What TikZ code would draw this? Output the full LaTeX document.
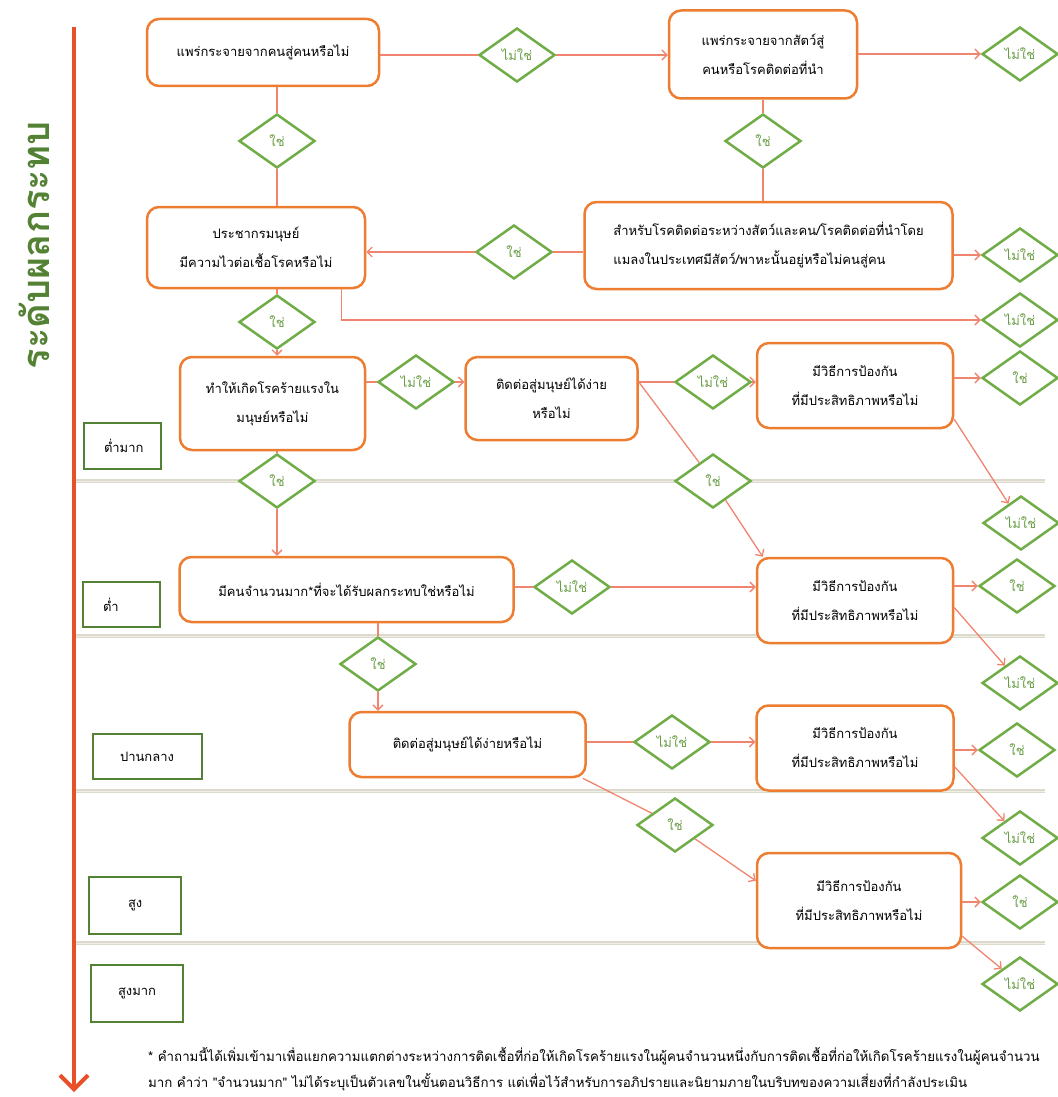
\documentclass[tikz,border=0pt]{standalone}
\usepackage{fontspec}
\newfontfamily\thaifont[Script=Thai]{Loma}
\usetikzlibrary{arrows.meta}
\usetikzlibrary{shapes.geometric}
\usetikzlibrary{calc}
\definecolor{boxorange}{HTML}{ED7D31}
\definecolor{chgreen}{HTML}{70AD47}
\definecolor{txgreen}{HTML}{6A9E45}
\definecolor{lvgreen}{HTML}{548235}
\definecolor{linkred}{HTML}{F0846E}
\definecolor{axisred}{HTML}{E8502A}
\definecolor{bandgray}{HTML}{DCDACB}
\tikzset{>={Straight Barb[length=5pt,width=10pt]}}
\tikzset{
    procbox/.style={draw=boxorange, line width=2.5pt, rounded corners=12pt, fill=white, align=center, font=\thaifont\fontsize{13}{29}\selectfont},
    yesno/.style={diamond, draw=chgreen, line width=2.5pt, fill=white, inner sep=0pt, minimum width=76pt, minimum height=54pt, text=txgreen, font=\thaifont\fontsize{13}{15}\selectfont},
    levelbox/.style={draw=lvgreen, line width=2.5pt, fill=white, align=left, text width=#1, font=\thaifont\fontsize{13}{15}\selectfont},
    link/.style={draw=linkred, line width=1.3pt},
    band/.style={bandgray, line width=4pt},
}
\def\bandline(#1)% Syntax: (y)
    { \draw[band] (76,#1) -- (1045,#1); \draw[white!55!bandgray, line width=1pt] (76,#1) -- (1045,#1); }

\begin{document}
\begin{tikzpicture}[x=1pt, y=-1pt]
		\useasboundingbox (0,0) rectangle (1057,1097);
		\foreach \yy in {481,636,791,943} { \bandline(\yy) }
		\draw[axisred, line width=4pt, -{Straight Barb[length=14pt,width=28pt]}] (74,27) -- (74,1092);
		\node[rotate=90, text=lvgreen, font=\thaifont\bfseries\fontsize{38}{44}\selectfont] (axislabel) at (34,245) {ระดับผลกระทบ};

		\node[levelbox=37pt, inner xsep=20pt, minimum height=46pt] (lvA) at (122.5,446) {ต่ำมาก};
		\node[levelbox=37pt, inner xsep=20pt, minimum height=45pt] (lvB) at (121.5,604.5) {ต่ำ};
		\node[levelbox=55pt, inner xsep=27pt, minimum height=45pt] (lvC) at (147.5,756.5) {ปานกลาง};
		\node[levelbox=14pt, inner xsep=39pt, minimum height=57pt] (lvD) at (135,905.5) {สูง};
		\node[levelbox=38pt, inner xsep=27pt, minimum height=57pt] (lvE) at (137,993.5) {สูงมาก};

		\node[procbox, minimum width=232pt, minimum height=67pt] (qA) at (263,52.5) {แพร่กระจายจากคนสู่คนหรือไม่};
		\node[procbox, minimum width=188pt, minimum height=88pt] (qB) at (763,54.5) {แพร่กระจายจากสัตว์สู่\\คนหรือโรคติดต่อที่นำ};
		\node[procbox, minimum width=218pt, minimum height=81pt] (qC) at (256,247.5) {ประชากรมนุษย์\\มีความไวต่อเชื้อโรคหรือไม่};
		\node[procbox, align=left, minimum width=368pt, minimum height=87pt] (qD) at (768.5,245.5) {สำหรับโรคติดต่อระหว่างสัตว์และคน/โรคติดต่อที่นำโดย\\แมลงในประเทศมีสัตว์/พาหะนั้นอยู่หรือไม่คนสู่คน};
		\node[procbox, minimum width=185pt, minimum height=93pt] (qE) at (272.5,403.5) {ทำให้เกิดโรคร้ายแรงใน\\มนุษย์หรือไม่};
		\node[procbox, minimum width=172pt, minimum height=83pt] (qF) at (551.5,398.5) {ติดต่อสู่มนุษย์ได้ง่าย\\หรือไม่};
		\node[procbox, minimum width=196pt, minimum height=85pt] (qG) at (855,385.5) {มีวิธีการป้องกัน\\ที่มีประสิทธิภาพหรือไม่};
		\node[procbox, minimum width=196pt, minimum height=85pt] (qH) at (855,600.5) {มีวิธีการป้องกัน\\ที่มีประสิทธิภาพหรือไม่};
		\node[procbox, minimum width=334pt, minimum height=65pt] (qI) at (346.5,589.5) {มีคนจำนวนมาก*ที่จะได้รับผลกระทบใช่หรือไม่};
		\node[procbox, minimum width=236pt, minimum height=65pt] (qJ) at (467.5,744.5) {ติดต่อสู่มนุษย์ได้ง่ายหรือไม่};
		\node[procbox, minimum width=197pt, minimum height=85pt] (qK) at (855,748) {มีวิธีการป้องกัน\\ที่มีประสิทธิภาพหรือไม่};
		\node[procbox, minimum width=204pt, minimum height=95pt] (qL) at (859,900.5) {มีวิธีการป้องกัน\\ที่มีประสิทธิภาพหรือไม่};

		\node[yesno] (dA1) at (517,55) {ไม่ใช่};
		\node[yesno] (dA2) at (1020,54) {ไม่ใช่};
		\node[yesno] (dA3) at (277,141) {ใช่};
		\node[yesno] (dA4) at (763,141) {ใช่};
		\node[yesno] (dC1) at (514,252) {ใช่};
		\node[yesno] (dC2) at (1020,255) {ไม่ใช่};
		\node[yesno] (dC3) at (1020,320) {ไม่ใช่};
		\node[yesno] (dC4) at (277,322) {ใช่};
		\node[yesno] (dE1) at (416,382) {ไม่ใช่};
		\node[yesno] (dF1) at (713,382) {ไม่ใช่};
		\node[yesno] (dG1) at (1020,378) {ใช่};
		\node[yesno] (dG2) at (1021,523) {ไม่ใช่};
		\node[yesno] (dF2) at (713,481) {ใช่};
		\node[yesno] (dE2) at (277,481) {ใช่};
		\node[yesno] (dI1) at (572,587) {ไม่ใช่};
		\node[yesno] (dH1) at (1017,586) {ใช่};
		\node[yesno] (dH2) at (1020,683) {ไม่ใช่};
		\node[yesno] (dI2) at (378,664) {ใช่};
		\node[yesno] (dJ1) at (672,742) {ไม่ใช่};
		\node[yesno] (dK1) at (1017,750) {ใช่};
		\node[yesno] (dK2) at (1020,838) {ไม่ใช่};
		\node[yesno] (dJ2) at (675,825) {ใช่};
		\node[yesno] (dL1) at (1020,902) {ใช่};
		\node[yesno] (dL2) at (1020,984) {ไม่ใช่};

		\draw[link] (qA.east |- dA1) -- (dA1);
		\draw[link,->] (dA1) -- (qB.west |- dA1);
		\draw[link,->] (qB.east |- dA2) -- (dA2);
		\draw[link] (qA.south -| dA3) -- (dA3) -- (qC.north -| dA3);
		\draw[link] (qB.south -| dA4) -- (dA4) -- (qD.north -| dA4);
		\draw[link] (qD.west |- dC1) -- (dC1);
		\draw[link,->] (dC1) -- (qC.east |- dC1);
		\draw[link,->] (qD.east |- dC2) -- (dC2);
		\draw[link,->] ([xshift=-25pt]qC.south east) |- (dC3);
		\draw[link] (qC.south -| dC4) -- (dC4);
		\draw[link,->] (dC4) -- (qE.north -| dC4);
		\draw[link] (qE.east |- dE1) -- (dE1);
		\draw[link,->] (dE1) -- (qF.west |- dE1);
		\draw[link] (qF.east |- dF1) -- (dF1);
		\draw[link,->] (dF1) -- (qG.west |- dF1);
		\draw[link,->] (qG.east |- dG1) -- (dG1);
		\draw[link,->] ([yshift=10pt]qG.south east) -- (dG2);
		\draw[link] (qF.east |- dF1) -- (dF2);
		\draw[link,->] (dF2) -- ([xshift=7pt]qH.north west);
		\draw[link] (qE.south -| dE2) -- (dE2);
		\draw[link,->] (dE2) -- (qI.north -| dE2);
		\draw[link] (qI.east |- dI1) -- (dI1);
		\draw[link,->] (dI1) -- (qH.west |- dI1);
		\draw[link,->] (qH.east |- dH1) -- (dH1);
		\draw[link,->] ([yshift=-7pt]qH.east) -- (dH2);
		\draw[link] (qI.south -| dI2) -- (dI2);
		\draw[link,->] (dI2) -- (qJ.north -| dI2);
		\draw[link] (qJ.east |- dJ1) -- (dJ1);
		\draw[link,->] (dJ1) -- (qK.west |- dJ1);
		\draw[link,->] (qK.east |- dK1) -- (dK1);
		\draw[link,->] ([yshift=-19pt]qK.east) -- (dK2);
		\draw[link] ([xshift=-4pt]qJ.south east) -- (dJ2);
		\draw[link,->] (dJ2) -- ([yshift=-29pt]qL.north west);
		\draw[link,->] (qL.east |- dL1) -- (dL1);
		\draw[link,->] ([yshift=13pt]qL.south east) -- (dL2);

		\node[anchor=north west, align=left, inner sep=0pt, font=\thaifont\fontsize{13.3}{26}\selectfont] (note) at (148,1047) {* คำถามนี้ได้เพิ่มเข้ามาเพื่อแยกความแตกต่างระหว่างการติดเชื้อที่ก่อให้เกิดโรคร้ายแรงในผู้คนจำนวนหนึ่งกับการติดเชื้อที่ก่อให้เกิดโรคร้ายแรงในผู้คนจำนวน\\มาก คำว่า "จำนวนมาก" ไม่ได้ระบุเป็นตัวเลขในขั้นตอนวิธีการ แต่เพื่อไว้สำหรับการอภิปรายและนิยามภายในบริบทของความเสี่ยงที่กำลังประเมิน};
	\end{tikzpicture}
\end{document}
